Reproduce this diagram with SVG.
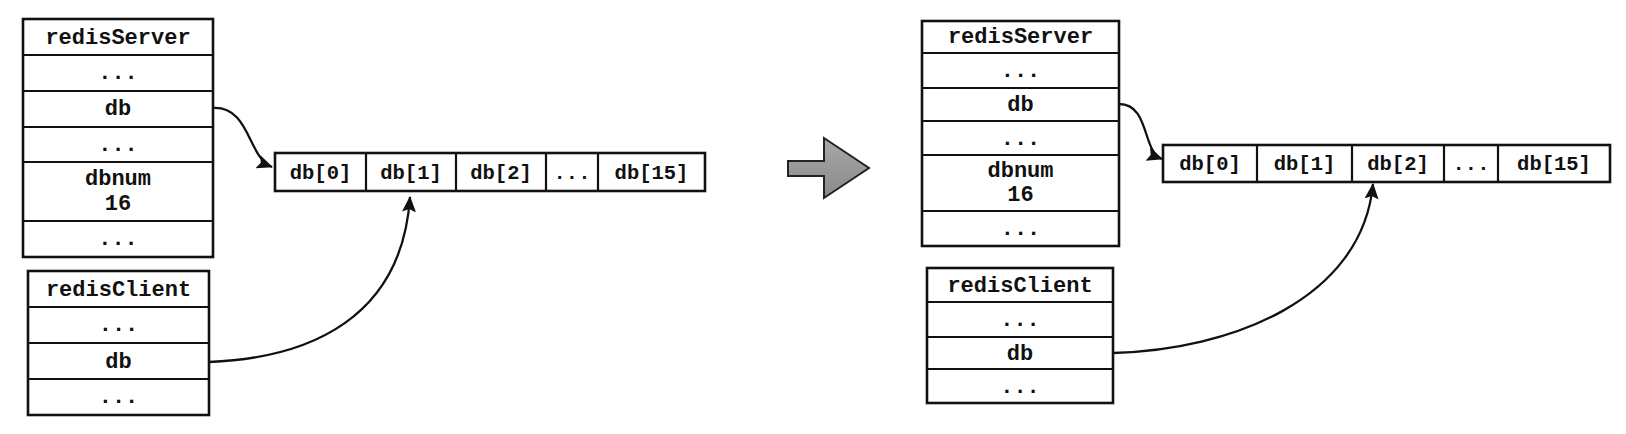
<svg xmlns="http://www.w3.org/2000/svg" width="1626" height="434" viewBox="0 0 1626 434">
<style>
.box{fill:#fff;stroke:#111;stroke-width:2.6}
.ln{stroke:#111;stroke-width:2.2}
.t{font-family:"Liberation Mono","Courier New",monospace;font-weight:bold;font-size:22px;fill:#111;text-anchor:middle}
.a{font-family:"Liberation Mono","Courier New",monospace;font-weight:bold;font-size:20.5px;fill:#111;text-anchor:middle}
.c{fill:none;stroke:#111;stroke-width:2.3}
</style>
<defs>
<marker id="ah" markerUnits="userSpaceOnUse" markerWidth="18" markerHeight="16" refX="15" refY="7" orient="auto">
<path d="M0,0 L16,7 L0,14 L3,7 Z" fill="#111"/>
</marker>
<linearGradient id="g" x1="0" y1="0" x2="0" y2="1">
<stop offset="0" stop-color="#a8a8a8"/>
<stop offset="1" stop-color="#8a8a8a"/>
</linearGradient>
</defs>

<g id="leftServer">
<rect class="box" x="23" y="19" width="190" height="238"/>
<line class="ln" x1="23" y1="55" x2="213" y2="55"/>
<line class="ln" x1="23" y1="91" x2="213" y2="91"/>
<line class="ln" x1="23" y1="127" x2="213" y2="127"/>
<line class="ln" x1="23" y1="162" x2="213" y2="162"/>
<line class="ln" x1="23" y1="221" x2="213" y2="221"/>
<text class="t" x="118" y="44">redisServer</text>
<text class="t" x="118" y="79">...</text>
<text class="t" x="118" y="115">db</text>
<text class="t" x="118" y="151">...</text>
<text class="t" x="118" y="185">dbnum</text>
<text class="t" x="118" y="210">16</text>
<text class="t" x="118" y="245">...</text>
</g>

<g id="leftClient">
<rect class="box" x="28" y="271" width="181" height="144"/>
<line class="ln" x1="28" y1="307" x2="209" y2="307"/>
<line class="ln" x1="28" y1="343" x2="209" y2="343"/>
<line class="ln" x1="28" y1="379" x2="209" y2="379"/>
<text class="t" x="118.5" y="296">redisClient</text>
<text class="t" x="118.5" y="331">...</text>
<text class="t" x="118.5" y="368">db</text>
<text class="t" x="118.5" y="403">...</text>
</g>

<g id="leftArray">
<rect class="box" x="275" y="153" width="430" height="38"/>
<line class="ln" x1="366" y1="153" x2="366" y2="191"/>
<line class="ln" x1="456" y1="153" x2="456" y2="191"/>
<line class="ln" x1="546" y1="153" x2="546" y2="191"/>
<line class="ln" x1="598" y1="153" x2="598" y2="191"/>
<text class="a" x="320.5" y="179">db[0]</text>
<text class="a" x="411" y="179">db[1]</text>
<text class="a" x="501" y="179">db[2]</text>
<text class="a" x="572" y="179">...</text>
<text class="a" x="651.5" y="179">db[15]</text>
</g>

<g id="transition">
<path d="M788,161 L824,161 L824,138 L869,168 L824,198 L824,176 L788,176 Z" fill="url(#g)" stroke="#222" stroke-width="2"/>
</g>

<g id="rightServer">
<rect class="box" x="922" y="21" width="197" height="225"/>
<line class="ln" x1="922" y1="53" x2="1119" y2="53"/>
<line class="ln" x1="922" y1="88" x2="1119" y2="88"/>
<line class="ln" x1="922" y1="121" x2="1119" y2="121"/>
<line class="ln" x1="922" y1="155" x2="1119" y2="155"/>
<line class="ln" x1="922" y1="211" x2="1119" y2="211"/>
<text class="t" x="1020.5" y="43">redisServer</text>
<text class="t" x="1020.5" y="77">...</text>
<text class="t" x="1020.5" y="111">db</text>
<text class="t" x="1020.5" y="145">...</text>
<text class="t" x="1020.5" y="177">dbnum</text>
<text class="t" x="1020.5" y="201">16</text>
<text class="t" x="1020.5" y="235">...</text>
</g>

<g id="rightClient">
<rect class="box" x="927" y="268" width="186" height="135"/>
<line class="ln" x1="927" y1="302" x2="1113" y2="302"/>
<line class="ln" x1="927" y1="337" x2="1113" y2="337"/>
<line class="ln" x1="927" y1="369" x2="1113" y2="369"/>
<text class="t" x="1020" y="292">redisClient</text>
<text class="t" x="1020" y="326">...</text>
<text class="t" x="1020" y="360">db</text>
<text class="t" x="1020" y="393">...</text>
</g>

<g id="rightArray">
<rect class="box" x="1163" y="145" width="447" height="37"/>
<line class="ln" x1="1257" y1="145" x2="1257" y2="182"/>
<line class="ln" x1="1352" y1="145" x2="1352" y2="182"/>
<line class="ln" x1="1444" y1="145" x2="1444" y2="182"/>
<line class="ln" x1="1498" y1="145" x2="1498" y2="182"/>
<text class="a" x="1210" y="170">db[0]</text>
<text class="a" x="1304.5" y="170">db[1]</text>
<text class="a" x="1398" y="170">db[2]</text>
<text class="a" x="1471" y="170">...</text>
<text class="a" x="1554" y="170">db[15]</text>
</g>

<g id="connectors">
<path class="c" d="M213,108 C250,106 248,158 272,167" marker-end="url(#ah)"/>
<path class="c" d="M209,362 C310,358 402,318 410,197" marker-end="url(#ah)"/>
<path class="c" d="M1119,104 C1150,104 1142,152 1162,159" marker-end="url(#ah)"/>
<path class="c" d="M1113,353 C1230,350 1362,300 1373,184" marker-end="url(#ah)"/>
</g>
</svg>
